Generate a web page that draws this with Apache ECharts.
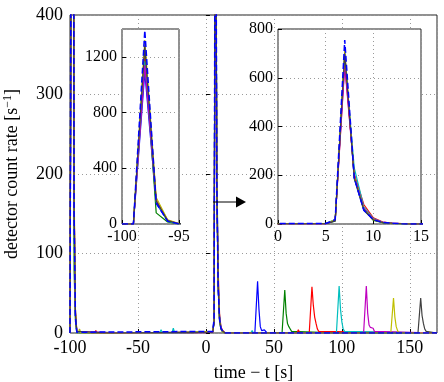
<!DOCTYPE html>
<html>
<head>
<meta charset="utf-8">
<script src="https://cdn.jsdelivr.net/npm/echarts@6/dist/echarts.min.js"></script>
<style>
html, body { margin: 0; padding: 0; background: #fff; }
#chart { width: 444px; height: 382px; }
</style>
</head>
<body>
<div id="chart"></div>
<script>
// 1 s bins of the two big pulses (shared by every run)
const launchT = [-100, -99, -98, -97, -96, -95]
const returnT = [5, 6, 7, 8, 9, 10, 11, 12, 13, 14]

const runNames = ['run 1', 'run 2', 'run 3', 'run 4', 'run 5', 'run 6', 'run 7', 'mean']
const runColors = ['#0000ff', '#008000', '#ff0000', '#00bfbf', '#bf00bf', '#bfbf00', '#404040', '#0000ff']

const launchCounts = [
  [0, 0, 1090, 150, 22, 1],
  [0, 0, 1250, 80, 15, 0],
  [0, 0, 1200, 170, 25, 2],
  [0, 0, 1170, 160, 20, 1],
  [0, 0, 1140, 175, 28, 2],
  [0, 0, 1320, 190, 30, 3],
  [0, 0, 1280, 165, 24, 2],
  [0, 0, 1390, 150, 20, 1]
]
const returnCounts = [
  [1, 14, 700, 185, 55, 18, 6, 3, 1, 0],
  [2, 12, 690, 190, 60, 15, 5, 2, 1, 0],
  [1, 16, 660, 205, 80, 25, 8, 4, 2, 0],
  [2, 18, 680, 230, 70, 22, 7, 3, 1, 0],
  [1, 15, 650, 200, 65, 20, 8, 3, 2, 0],
  [2, 17, 715, 195, 62, 18, 6, 2, 1, 0],
  [1, 13, 700, 190, 60, 17, 6, 3, 1, 0],
  [2, 18, 755, 190, 58, 18, 6, 3, 1, 0]
]
// small delayed pulse of each run, [t, count]
const echoPulses = [
  [[36, 0], [38, 65], [39, 30], [40, 8], [41, 3], [42, 3], [43, 4], [44, 2], [45, 0]],
  [[56, 0], [58, 54], [59, 25], [60, 12], [61, 8], [62, 5], [63, 2], [64, 0]],
  [[76, 0], [78, 58], [79, 35], [80, 20], [81, 12], [82, 5], [83, 2], [84, 0]],
  [[96, 0], [98, 59], [99, 30], [100, 14], [101, 5], [102, 2], [103, 0]],
  [[116, 0], [118, 59], [119, 25], [120, 10], [121, 7], [122, 5], [123, 6], [124, 2], [125, 0]],
  [[136, 0], [138, 44], [139, 20], [140, 8], [141, 3], [142, 0]],
  [[156, 0], [158, 44], [159, 22], [160, 12], [161, 5], [162, 2], [163, 0]],
  []
]
// background counts
const baselineBumps = [
  [[-80, 0], [-79, 2], [-78, 0], [60, 0], [61, 2], [62, 0]],
  [[-12, 0], [-11, 2], [-10, 0], [100, 0], [101, 2], [102, 0]],
  [[-82, 0], [-81, 3], [-80, 0], [67, 0], [68, 4], [69, 0]],
  [[-34, 0], [-33, 4], [-32, 0], [-25, 0], [-24, 6], [-23, 0], [33, 0], [34, 3], [35, 0]],
  [[-60, 0], [-59, 2], [-58, 0], [-5, 0], [-4, 2], [-3, 0]],
  [[-94, 0], [-93, 5], [-92, 0], [-40, 0], [-39, 2], [-38, 0]],
  [[-70, 0], [-69, 2], [-68, 0], [20, 0], [21, 2], [22, 0]],
  []
]

const mainTicks = { min: -100, max: 170, interval: 50, yMax: 400, yInterval: 100 }
const leftInsetTicks = { min: -100, max: -95, interval: 5, yMax: 1400, yInterval: 400 }
const rightInsetTicks = { min: 0, max: 15, interval: 5, yMax: 800, yInterval: 200 }

const FONT = 'Liberation Serif'

function runData(i) {
  const pts = launchT.map((t, k) => [t, launchCounts[i][k]])
    .concat(returnT.map((t, k) => [t, returnCounts[i][k]]))
    .concat(echoPulses[i], baselineBumps[i], [[170, 0]])
  pts.sort((a, b) => a[0] - b[0])
  return pts
}

const dotted = { show: true, lineStyle: { color: '#9a9a9a', type: [1, 3], width: 1 } }
const plain = v => String(v)

function xAxisFor(g, t, z, fs, margin) {
  return {
    type: 'value', gridIndex: g, min: t.min, max: t.max, interval: t.interval, z: z,
    axisLine: { show: false },
    axisTick: { show: true, inside: true, length: 4, lineStyle: { color: '#000' } },
    axisLabel: { color: '#000', fontFamily: FONT, fontSize: fs, margin: margin, formatter: plain, showMaxLabel: g === 0 ? false : true },
    splitLine: dotted
  }
}
function yAxisFor(g, t, z, fs, margin) {
  return {
    type: 'value', gridIndex: g, min: 0, max: t.yMax, interval: t.yInterval, z: z,
    axisLine: { show: false },
    axisTick: { show: true, inside: true, length: 4, lineStyle: { color: '#000' } },
    axisLabel: { color: '#000', fontFamily: FONT, fontSize: fs, margin: margin, formatter: plain, showMaxLabel: g === 1 ? false : true },
    splitLine: dotted
  }
}

const xAxes = [
  xAxisFor(0, mainTicks, 0, 18, 6),
  xAxisFor(1, leftInsetTicks, 4, 16, 5),
  xAxisFor(2, rightInsetTicks, 4, 16, 5)
]
const yAxes = [
  yAxisFor(0, mainTicks, 0, 18, 7),
  yAxisFor(1, leftInsetTicks, 4, 16, 5),
  yAxisFor(2, rightInsetTicks, 4, 16, 5)
]
xAxes[0].name = 'time \u2212 t [s]'
xAxes[0].nameLocation = 'middle'
xAxes[0].nameGap = 31
xAxes[0].nameTextStyle = { color: '#000', fontFamily: FONT, fontSize: 18 }
yAxes[0].name = '{n|detector count rate [s}{sup|\u22121}{n|]}'
yAxes[0].nameLocation = 'middle'
yAxes[0].nameGap = 48
yAxes[0].nameTextStyle = {
  color: '#000', fontFamily: FONT, fontSize: 18,
  rich: {
    n: { color: '#000', fontFamily: FONT, fontSize: 18, lineHeight: 20 },
    sup: { color: '#000', fontFamily: FONT, fontSize: 12, lineHeight: 20, verticalAlign: 'top', padding: [0, 0, 7, 0] }
  }
}

const series = []
for (let g = 0; g < 3; g++) {
  for (let i = 0; i < runNames.length; i++) {
    const isMean = i === runNames.length - 1
    series.push({
      name: runNames[i],
      type: 'line',
      xAxisIndex: g,
      yAxisIndex: g,
      data: runData(i),
      showSymbol: false,
      clip: true,
      z: g === 0 ? 2 + i * 0.01 : 6 + i * 0.01,
      lineStyle: { color: runColors[i], width: isMean ? 1.5 : 1.2, type: isMean ? [6, 3] : 'solid' }
    })
  }
}

const chart = echarts.init(document.getElementById('chart'), null, { renderer: 'canvas' })
chart.setOption({
  animation: false,
  backgroundColor: '#fff',
  grid: [
    { left: 70, top: 15, right: 7, bottom: 49, outerBoundsMode: 'none', show: true, borderColor: '#222', borderWidth: 1, backgroundColor: 'transparent', z: 0 },
    { left: 122, top: 29, width: 57, height: 195, outerBoundsMode: 'none', show: true, borderColor: '#222', borderWidth: 1, backgroundColor: '#fff', z: 3 },
    { left: 278, top: 29, width: 143, height: 195, outerBoundsMode: 'none', show: true, borderColor: '#222', borderWidth: 1, backgroundColor: '#fff', z: 3 }
  ],
  xAxis: xAxes,
  yAxis: yAxes,
  series: series,
  graphic: [
    { type: 'line', z: 20, shape: { x1: 213, y1: 202, x2: 237, y2: 202 }, style: { stroke: '#000', lineWidth: 1 } },
    { type: 'polygon', z: 20, shape: { points: [[236, 196.5], [246, 202], [236, 207.5]] }, style: { fill: '#000' } }
  ]
})
</script>
</body>
</html>
